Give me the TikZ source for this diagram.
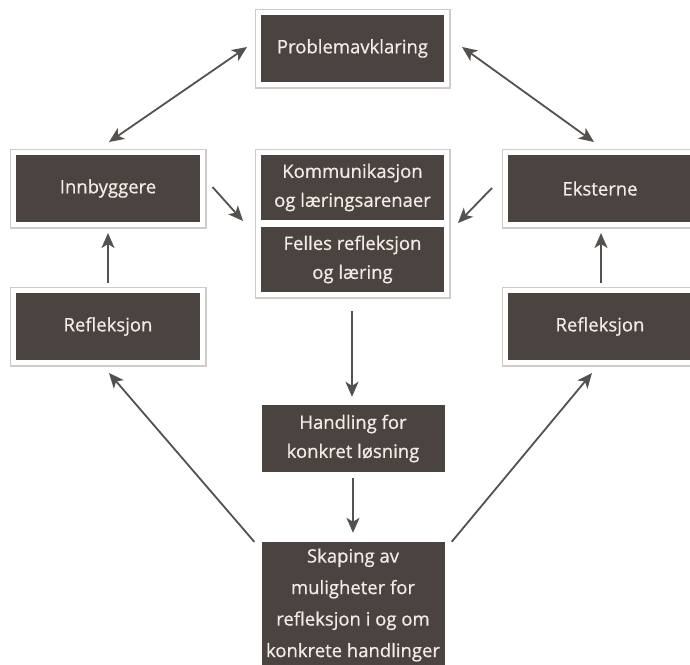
\documentclass[tikz,border=0pt]{standalone}
\usepackage{fontspec}
\setmainfont{Open Sans}
\newfontfamily\boxfont{Open Sans}[FakeBold=0.7]
\usetikzlibrary{arrows.meta,calc,fit}
\definecolor{boxfill}{HTML}{4A4340}
\definecolor{frameclr}{HTML}{CFCBC8}
\definecolor{arrclr}{HTML}{55514E}
\definecolor{txtclr}{HTML}{F0ECE6}
\begin{document}
\begin{tikzpicture}[x=1pt,y=-1pt,
  inbox/.style={fill=boxfill, text=txtclr, minimum width=183pt, minimum height=67pt,
    inner sep=0pt, align=center, font=\boxfont\fontsize{18.5}{29}\selectfont},
  framebox/.style={draw=frameclr, line width=1.6pt, inner sep=5.5pt},
  arr/.style={draw=arrclr, line width=1.8pt,
    -{Stealth[length=15pt,width=13pt,inset=4pt]}},
  darr/.style={draw=arrclr, line width=1.8pt,
    {Stealth[length=15pt,width=13pt,inset=4pt]}-{Stealth[length=15pt,width=13pt,inset=4pt]}}
]
\clip (0,0) rectangle (690,664);
\fill[white] (0,0) rectangle (690,664);

% boxes
\node[inbox] (prob) at (352.5,48.5) {Problemavklaring};
\node[framebox, fit=(prob)] (probF) {};

\node[inbox, minimum height=65pt] (komm) at (352.5,187.5) {Kommunikasjon\\og læringsarenaer};
\node[inbox, minimum height=65pt] (felles) at (352.5,259.5) {Felles refleksjon\\og læring};
\node[framebox, fit=(komm)(felles)] (centerF) {};

\node[inbox, minimum width=184pt] (inn) at (108,188.5) {Innbyggere};
\node[framebox, fit=(inn)] (innF) {};
\node[inbox, minimum width=184pt] (reflL) at (108,326.5) {Refleksjon};
\node[framebox, fit=(reflL)] (reflLF) {};

\node[inbox, minimum width=184pt] (ekst) at (600,188.5) {Eksterne};
\node[framebox, fit=(ekst)] (ekstF) {};
\node[inbox, minimum width=184pt] (reflR) at (600,326.5) {Refleksjon};
\node[framebox, fit=(reflR)] (reflRF) {};

\node[inbox] (hand) at (353,438.5) {Handling for\\konkret løsning};
\node[inbox, minimum height=126pt, font=\boxfont\fontsize{18.5}{31.5}\selectfont] (skap) at (353,605)
  {Skaping av\\muligheter for\\refleksjon i og om\\konkrete handlinger};

% connectors
\draw[darr] ($(probF.west)+(-7.5,-1.5)$) -- ($(innF.north)+(1,-6.5)$);
\draw[darr] ($(probF.east)+(11.5,-1.5)$) -- ($(ekstF.north)+(-6,-6.5)$);
\draw[arr] ($(innF.east)+(6,-1.5)$) -- ($(centerF.west)+(-11.5,-2.5)$);
\draw[arr] ($(ekstF.west)+(-9.5,-0.5)$) -- ($(centerF.east)+(7.5,-0.5)$);
\draw[arr] ($(reflLF.north)+(0,-3.5)$) -- ($(innF.south)+(0,4.5)$);
\draw[arr] ($(reflRF.north)+(1,-3.5)$) -- ($(ekstF.south)+(1,4.5)$);
\draw[arr] ($(centerF.south)+(-0.5,12.5)$) -- ($(hand.north)+(-1,-8)$);
\draw[arr] ($(hand.south)+(0,6)$) -- ($(skap.north)+(0,-9)$);
\draw[arr] ($(skap.north west)+(-7,0)$) -- ($(reflLF.south)+(1,6.5)$);
\draw[arr] ($(skap.north east)+(7,0)$) -- ($(reflRF.south)+(-8,6.5)$);
\end{tikzpicture}
\end{document}
